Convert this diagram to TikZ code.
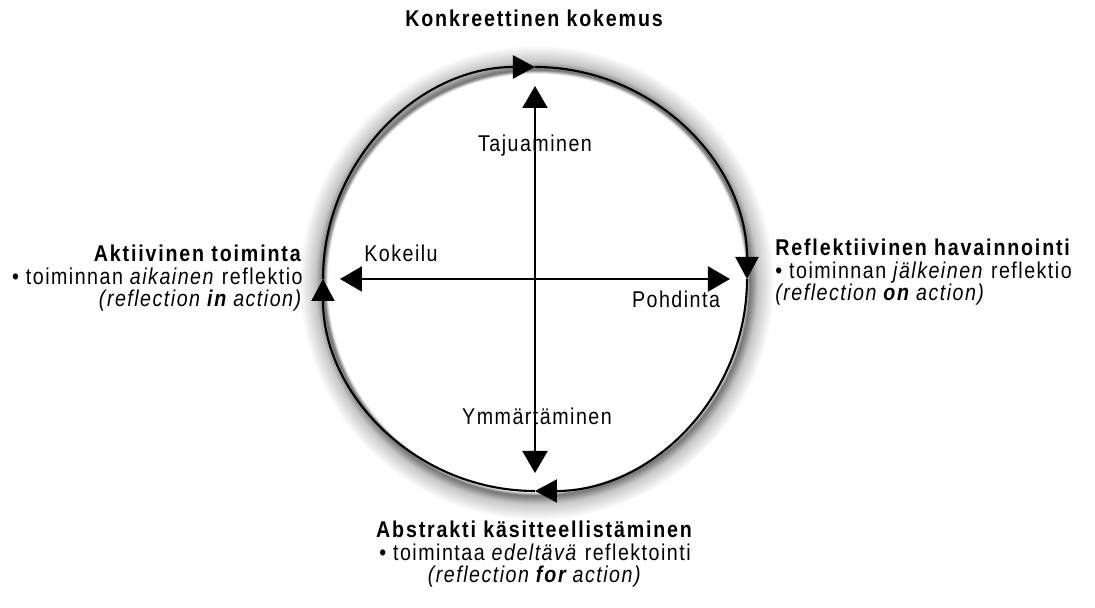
\documentclass[tikz,border=0pt]{standalone}
\usepackage{fontspec}
\setmainfont{Liberation Sans}[FakeStretch=0.86, LetterSpace=6.5, BoldFeatures={LetterSpace=8}, BoldItalicFeatures={LetterSpace=8}]
\usetikzlibrary{arrows.meta}
\pgfdeclareradialshading{halo}{\pgfpoint{0bp}{0bp}}{color(0bp)=(white); color(22bp)=(white); color(22.4bp)=(black!55); color(23.3bp)=(black!22); color(25bp)=(white)}

\begin{document}
\begin{tikzpicture}[
    font=\fontsize{13}{12.6}\selectfont,
    cycle/.style={line width=1.2pt, -{Triangle[length=0.44cm, width=0.46cm, fill=black]}},
    axis/.style={line width=1.2pt, {Triangle[length=0.44cm, width=0.5cm, fill=black]}-{Triangle[length=0.44cm, width=0.5cm, fill=black]}},
    mode/.style={inner sep=0pt},
  ]
    \useasboundingbox (-10.7,5.58) rectangle (11.2,-6.58);

    % Soft shadow round the circle
    \shade[shading=halo] (0.03,-0.07) circle (4.75);

    % Clockwise learning cycle
    \draw[cycle] (180:4.24) arc[start angle=180, end angle=90, radius=4.24];
    \draw[cycle] (90:4.24) arc[start angle=90, end angle=0, radius=4.24];
    \draw[cycle] (0:4.24) arc[start angle=0, end angle=-90, radius=4.24];
    \draw[cycle] (-90:4.24) arc[start angle=-90, end angle=-180, radius=4.24];

    % Cross axes
    \coordinate (up) at (0,3.86);
    \coordinate (down) at (0,-3.88);
    \coordinate (left) at (-3.9,0);
    \coordinate (right) at (3.9,0);
    \draw[axis] (down) -- (up);
    \draw[axis] (left) -- (right);

    % Axis labels
    \node[mode, anchor=base] (taju) at (0,2.54) {Tajuaminen};
    \node[mode, anchor=base] (ymm) at (0.04,-2.92) {Ymmärtäminen};
    \node[mode, anchor=base] (kok) at (-2.68,0.34) {Kokeilu};
    \node[mode, anchor=base] (pohd) at (2.82,-0.58) {Pohdinta};

    % Stages of the cycle
    \node[mode, anchor=base] (konk) at (0,5.04) {\textbf{Konkreettinen kokemus}};
    \node[mode, anchor=north east, align=right] (akt) at (-4.64,0.68)
        {\textbf{Aktiivinen toiminta}\\
         \textbullet{} toiminnan \textit{aikainen} reflektio\\
         \textit{(reflection \textbf{in} action)}};
    \node[mode, anchor=north west, align=left] (refl) at (4.8,0.8)
        {\textbf{Reflektiivinen havainnointi}\\
         \textbullet{} toiminnan \textit{jälkeinen} reflektio\\
         \textit{(reflection \textbf{on} action)}};
    \node[mode, anchor=north, align=center] (abs) at (0,-4.84)
        {\textbf{Abstrakti käsitteellistäminen}\\
         \textbullet{} toimintaa \textit{edeltävä} reflektointi\\
         \textit{(reflection \textbf{for} action)}};
\end{tikzpicture}
\end{document}
